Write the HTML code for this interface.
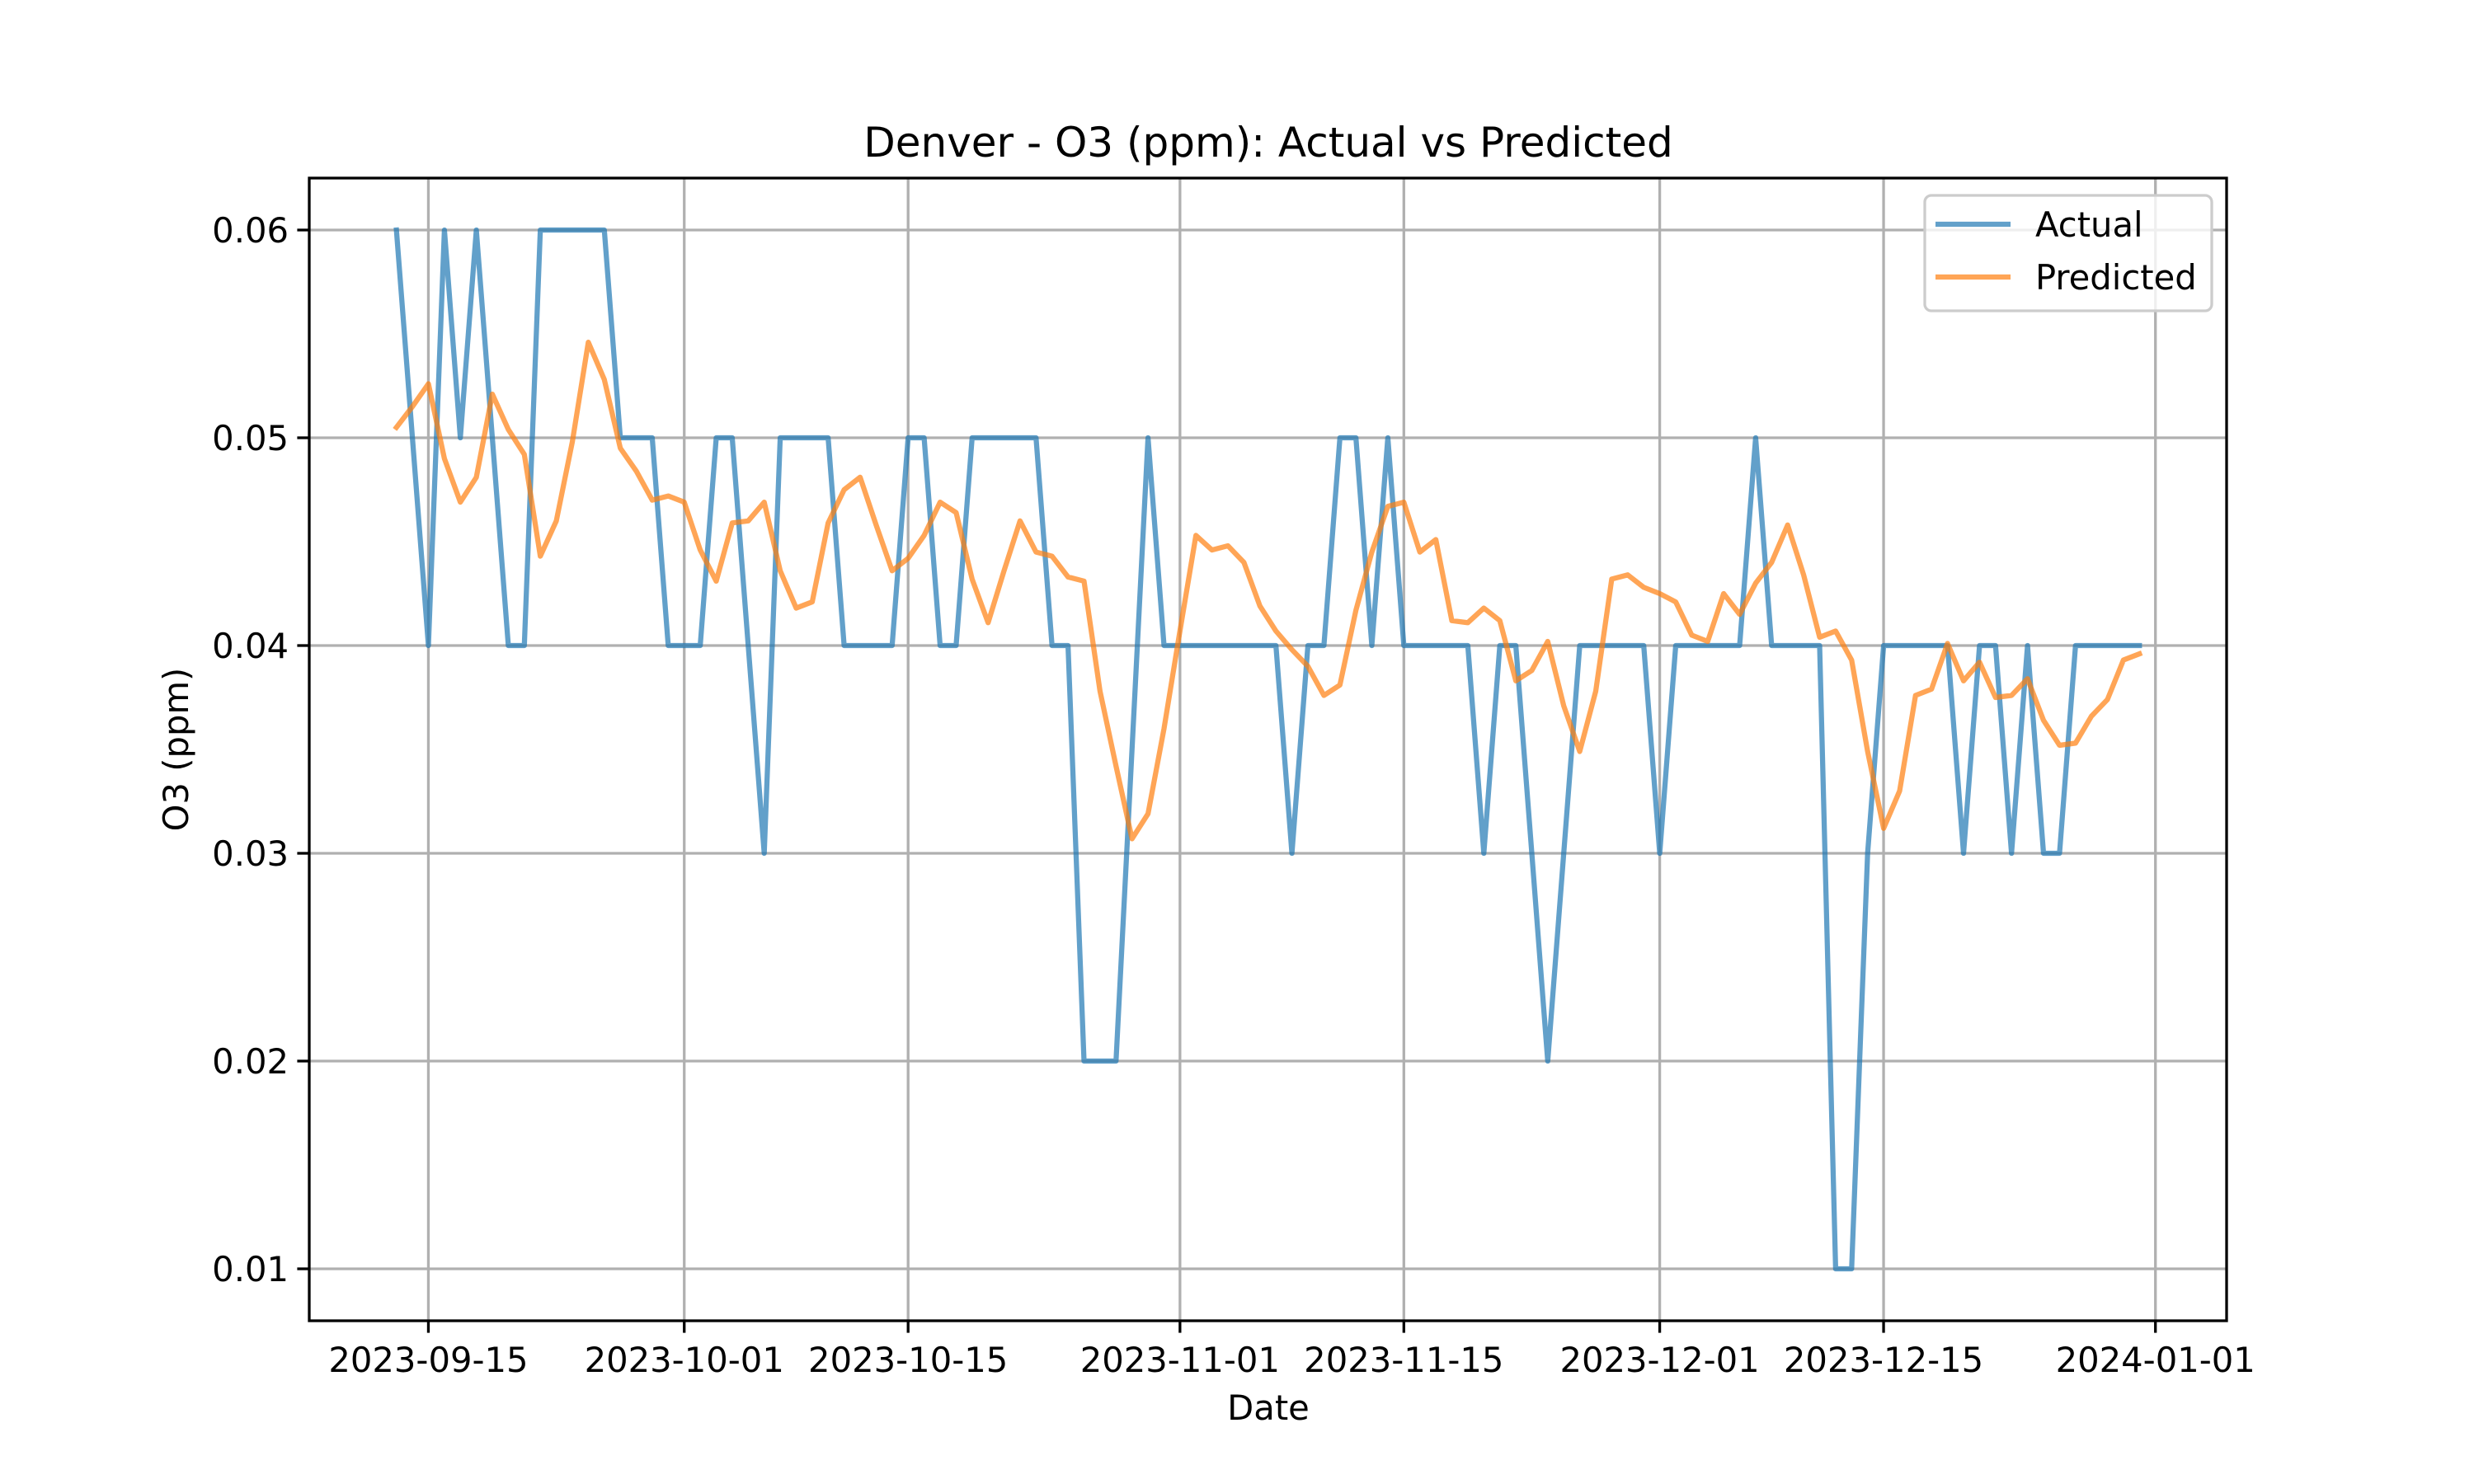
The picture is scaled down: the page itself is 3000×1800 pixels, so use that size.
<!DOCTYPE html>
<html><head><meta charset="utf-8"><style>
html,body{margin:0;padding:0;background:#fff;}
svg{display:block;font-family:"DejaVu Sans","Liberation Sans",sans-serif;}
</style></head><body>
<svg id="chart" width="3000" height="1800" viewBox="0 0 3000 1800" xmlns="http://www.w3.org/2000/svg">
<rect x="0" y="0" width="3000" height="1800" fill="#fff"/>
<text x="1538" y="190" font-size="50" text-anchor="middle">Denver - O3 (ppm): Actual vs Predicted</text>
<g id="grid"></g>
<g id="series"></g>
<rect x="375" y="216" width="2325" height="1386" fill="none" stroke="#000" stroke-width="3.3"/>
<g id="xticks"></g>
<g id="yticks"></g>
<text x="1538" y="1722" font-size="41.7" text-anchor="middle">Date</text>
<text x="0" y="0" font-size="41.7" text-anchor="middle" transform="translate(228,909) rotate(-90)">O3 (ppm)</text>
<g>
<rect x="2334" y="237" width="348" height="140" rx="8" fill="#fff" fill-opacity="0.8" stroke="#cccccc" stroke-width="3.3"/>
<line x1="2347" y1="272" x2="2438" y2="272" stroke="#1f77b4" stroke-opacity="0.7" stroke-width="6.25"/>
<text x="2468" y="287" font-size="41.7">Actual</text>
<line x1="2347" y1="336" x2="2438" y2="336" stroke="#ff7f0e" stroke-opacity="0.7" stroke-width="6.25"/>
<text x="2468" y="351" font-size="41.7">Predicted</text>
</g>
</svg>
<script>
const actual = [0.06,0.05,0.04,0.06,0.05,0.06,0.05,0.04,0.04,0.06,0.06,0.06,0.06,0.06,0.05,0.05,0.05,0.04,0.04,0.04,0.05,0.05,0.04,0.03,0.05,0.05,0.05,0.05,0.04,0.04,0.04,0.04,0.05,0.05,0.04,0.04,0.05,0.05,0.05,0.05,0.05,0.04,0.04,0.02,0.02,0.02,0.035,0.05,0.04,0.04,0.04,0.04,0.04,0.04,0.04,0.04,0.03,0.04,0.04,0.05,0.05,0.04,0.05,0.04,0.04,0.04,0.04,0.04,0.03,0.04,0.04,0.03,0.02,0.03,0.04,0.04,0.04,0.04,0.04,0.03,0.04,0.04,0.04,0.04,0.04,0.05,0.04,0.04,0.04,0.04,0.01,0.01,0.03,0.04,0.04,0.04,0.04,0.04,0.03,0.04,0.04,0.03,0.04,0.03,0.03,0.04,0.04,0.04,0.04,0.04];
const predicted = [0.0505,0.0515,0.0526,0.0490,0.0469,0.0481,0.0521,0.0504,0.0492,0.0443,0.0460,0.0498,0.0546,0.0528,0.0495,0.0484,0.0470,0.0472,0.0469,0.0446,0.0431,0.0459,0.0460,0.0469,0.0436,0.0418,0.0421,0.0459,0.0475,0.0481,0.0458,0.0436,0.0442,0.0453,0.0469,0.0464,0.0432,0.0411,0.0436,0.0460,0.0445,0.0443,0.0433,0.0431,0.0378,0.0342,0.0307,0.0319,0.0360,0.0407,0.0453,0.0446,0.0448,0.0440,0.0419,0.0407,0.0398,0.0390,0.0376,0.0381,0.0417,0.0445,0.0467,0.0469,0.0445,0.0451,0.0412,0.0411,0.0418,0.0412,0.0383,0.0388,0.0402,0.0371,0.0349,0.0378,0.0432,0.0434,0.0428,0.0425,0.0421,0.0405,0.0402,0.0425,0.0415,0.0430,0.0440,0.0458,0.0434,0.0404,0.0407,0.0393,0.0349,0.0312,0.0330,0.0376,0.0379,0.0401,0.0383,0.0392,0.0375,0.0376,0.0384,0.0364,0.0352,0.0353,0.0366,0.0374,0.0393,0.0396];
const xTickDays = [2,18,32,49,63,79,93,110];
const xTickLabels = ["2023-09-15","2023-10-01","2023-10-15","2023-11-01","2023-11-15","2023-12-01","2023-12-15","2024-01-01"];
const yTickValues = [0.01,0.02,0.03,0.04,0.05,0.06];
const yTickLabels = ["0.01","0.02","0.03","0.04","0.05","0.06"];

const NS="http://www.w3.org/2000/svg";
const L=375,R=2700,T=216,B=1602;
const n=actual.length;
const pad=(n-1)*0.05;
const xmin=-pad,xmax=(n-1)+pad;
const ymin=0.0075,ymax=0.0625;
function xs(d){return L+(d-xmin)/(xmax-xmin)*(R-L);}
function ys(v){return B-(v-ymin)/(ymax-ymin)*(B-T);}
function mk(tag,attrs,parent){const e=document.createElementNS(NS,tag);for(const k in attrs)e.setAttribute(k,attrs[k]);parent.appendChild(e);return e;}
const grid=document.getElementById('grid'),series=document.getElementById('series'),xt=document.getElementById('xticks'),yt=document.getElementById('yticks');
xTickDays.forEach((d,i)=>{
  const x=xs(d);
  const g=mk('line',{x1:x,y1:T,x2:x,y2:B,stroke:'#b0b0b0','stroke-width':3.3},grid);
  
  
  const t=mk('line',{x1:x,y1:B,x2:x,y2:B+14.6,stroke:'#000','stroke-width':3.3},xt);
  
  
  const lb=mk('text',{x:x,y:B+62,'font-size':41.7,'text-anchor':'middle'},xt);
  lb.textContent=xTickLabels[i];
  
  
});
yTickValues.forEach((v,i)=>{
  const y=ys(v);
  const g=mk('line',{x1:L,y1:y,x2:R,y2:y,stroke:'#b0b0b0','stroke-width':3.3},grid);
  
  
  const t=mk('line',{x1:L-14.6,y1:y,x2:L,y2:y,stroke:'#000','stroke-width':3.3},yt);
  
  
  const lb=mk('text',{x:L-25,y:y+15,'font-size':41.7,'text-anchor':'end'},yt);
  lb.textContent=yTickLabels[i];
  
  
});
function path(arr,color,name){
  const d=arr.map((v,i)=>(i?'L':'M')+xs(i).toFixed(1)+','+ys(v).toFixed(1)).join(' ');
  const p=mk('path',{d:d,fill:'none',stroke:color,'stroke-opacity':0.7,'stroke-width':6.25,'stroke-linejoin':'round','stroke-linecap':'square'},series);
  
  
}
path(actual,'#1f77b4','actual-line');
path(predicted,'#ff7f0e','predicted-line');
</script>
</body></html>
